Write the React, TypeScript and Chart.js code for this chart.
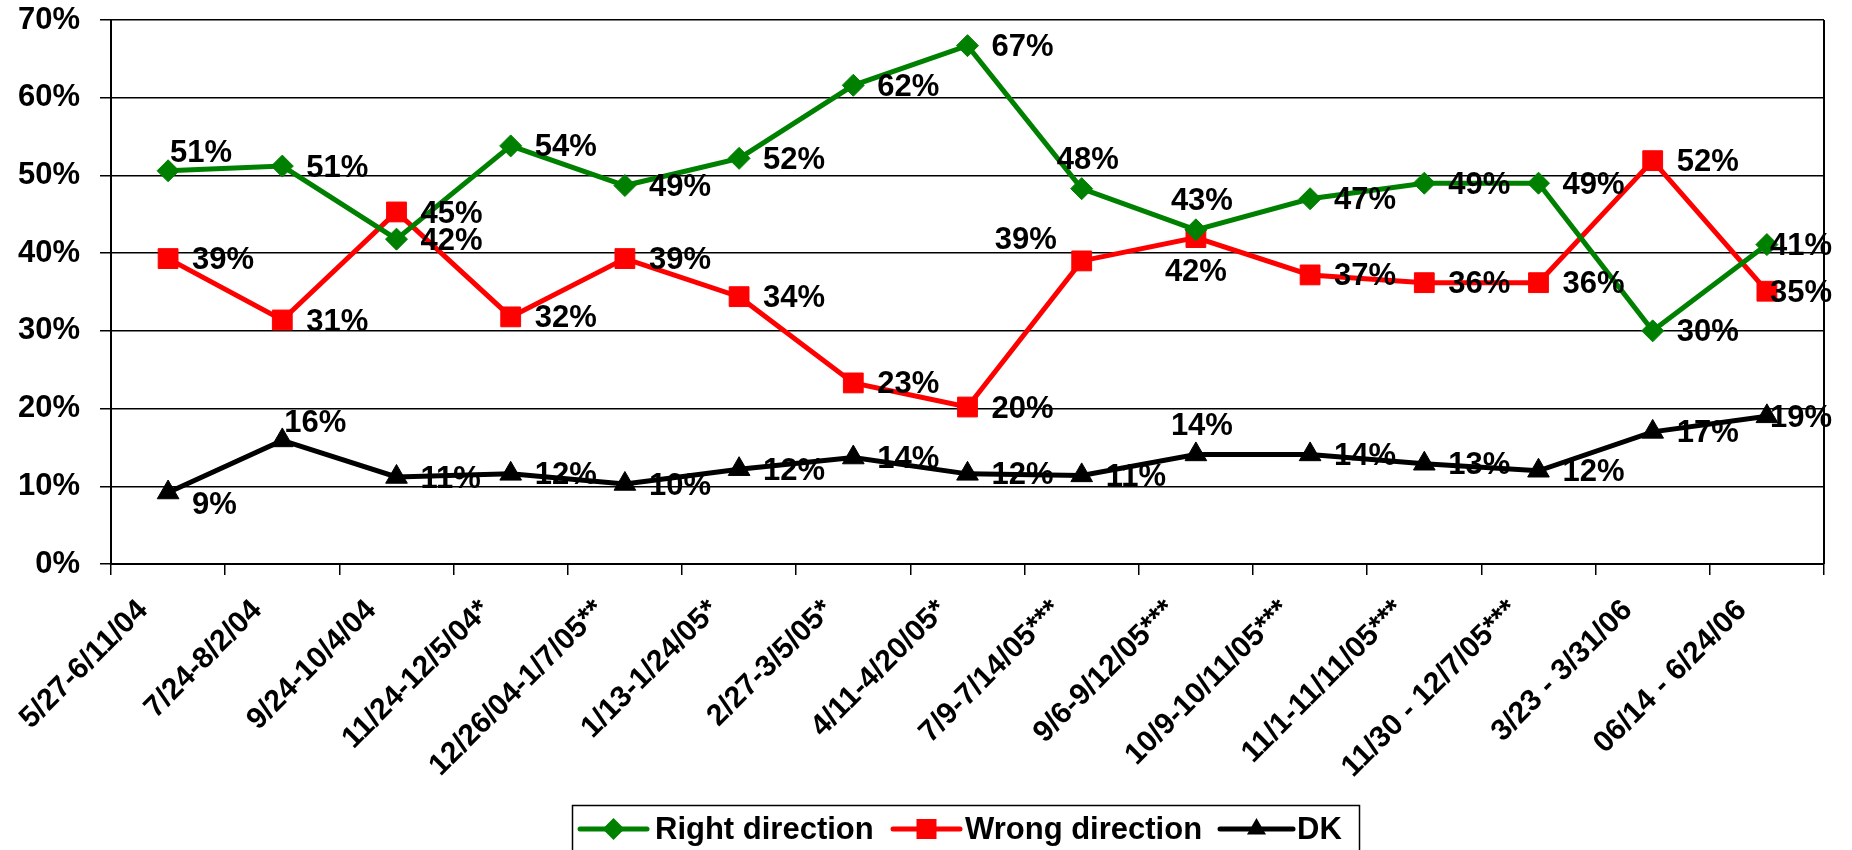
import React, { useEffect, useRef } from 'react';
import { Chart, registerables } from 'chart.js';

Chart.register(...registerables);

// ---------- data ----------
const categories = [
  '5/27-6/11/04',
  '7/24-8/2/04',
  '9/24-10/4/04',
  '11/24-12/5/04*',
  '12/26/04-1/7/05**',
  '1/13-1/24/05*',
  '2/27-3/5/05*',
  '4/11-4/20/05*',
  '7/9-7/14/05***',
  '9/6-9/12/05***',
  '10/9-10/11/05***',
  '11/1-11/11/05***',
  '11/30 - 12/7/05***',
  '3/23 - 3/31/06',
  '06/14 - 6/24/06',
];

const rightDirection = [50.6, 51.2, 41.8, 53.8, 48.7, 52.2, 61.6, 66.7, 48.3, 43.0, 47.0, 49.0, 49.0, 30.0, 41.1];
const wrongDirection = [39.3, 31.4, 45.3, 31.8, 39.3, 34.4, 23.3, 20.2, 39.0, 42.0, 37.2, 36.2, 36.2, 51.9, 35.1];
const dontKnow = [9.2, 15.9, 11.2, 11.6, 10.3, 12.2, 13.7, 11.6, 11.4, 14.1, 14.1, 12.9, 12.0, 17.0, 19.0];

const seriesNames = ['Right direction', 'Wrong direction', 'DK'];

const yMin = 0;
const yMax = 70;
const yStep = 10;

// label placement codes per point (R=right, E=right tight, AR=above-right, BR=below-right, A=above, B=below, L=left-above)
const rightPlacement = ['AR', 'R', 'R', 'R', 'R', 'R', 'R', 'R', 'A', 'A', 'R', 'R', 'R', 'R', 'E'];
const wrongPlacement = ['R', 'R', 'R', 'R', 'R', 'R', 'R', 'R', 'L', 'B', 'R', 'R', 'R', 'R', 'E'];
const dkPlacement = ['BR', 'AR', 'R', 'R', 'R', 'R', 'R', 'R', 'R', 'A', 'R', 'R', 'R', 'R', 'E'];

// ---------- styles ----------
const FONT = "'Liberation Sans', Arial, Helvetica, sans-serif";
const GREEN = '#008000';
const RED = '#FF0000';
const BLACK = '#000000';

const placementOffsets: Record<string, { dx: number; dy: number; align: CanvasTextAlign }> = {
  R: { dx: 24, dy: 2, align: 'left' },
  E: { dx: 3, dy: 2, align: 'left' },
  AR: { dx: 2, dy: -17, align: 'left' },
  BR: { dx: 24, dy: 13, align: 'left' },
  A: { dx: 6, dy: -28, align: 'center' },
  B: { dx: 0, dy: 35, align: 'center' },
  L: { dx: -25, dy: -20, align: 'right' },
};

function drawShape(ctx: CanvasRenderingContext2D, shape: string, x: number, y: number, color: string) {
  ctx.save();
  ctx.fillStyle = color;
  ctx.beginPath();
  if (shape === 'rectRot') {
    const r = 11;
    ctx.moveTo(x, y - r);
    ctx.lineTo(x + r, y);
    ctx.lineTo(x, y + r);
    ctx.lineTo(x - r, y);
  } else if (shape === 'rect') {
    const s = 10;
    ctx.rect(x - s, y - s, 2 * s, 2 * s);
  } else {
    const r = 11;
    ctx.moveTo(x, y - r);
    ctx.lineTo(x + r * 0.866, y + r * 0.5);
    ctx.lineTo(x - r * 0.866, y + r * 0.5);
  }
  ctx.closePath();
  ctx.fill();
  ctx.restore();
}

const dataLabelPlugin = {
  id: 'dataLabels',
  afterDatasetsDraw(chart: any) {
    const ctx: CanvasRenderingContext2D = chart.ctx;
    ctx.save();
    ctx.font = `bold 31px ${FONT}`;
    ctx.fillStyle = BLACK;
    ctx.textBaseline = 'middle';
    chart.data.datasets.forEach((ds: any, i: number) => {
      const meta = chart.getDatasetMeta(i);
      meta.data.forEach((pt: any, j: number) => {
        const v = ds.data[j];
        const p = placementOffsets[ds.placement[j]] || placementOffsets.R;
        ctx.textAlign = p.align;
        ctx.fillText(`${Math.round(v)}%`, pt.x + p.dx, pt.y + p.dy);
      });
    });
    ctx.restore();
  },
};

const frameAndLegendPlugin = {
  id: 'frameLegend',
  afterDraw(chart: any) {
    const ctx: CanvasRenderingContext2D = chart.ctx;
    const a = chart.chartArea;
    ctx.save();
    // right frame line
    ctx.strokeStyle = BLACK;
    ctx.lineWidth = 2;
    ctx.beginPath();
    ctx.moveTo(a.right, a.top);
    ctx.lineTo(a.right, a.bottom);
    ctx.stroke();

    // legend box
    ctx.lineWidth = 1.5;
    ctx.strokeRect(572.5, 805.5, 787, 60);
    const ly = 829;
    const items = [
      { x0: 580, x1: 647, tx: 655 },
      { x0: 893, x1: 960, tx: 965 },
      { x0: 1220, x1: 1293, tx: 1297 },
    ];
    ctx.font = `bold 31px ${FONT}`;
    ctx.textAlign = 'left';
    ctx.textBaseline = 'middle';
    chart.data.datasets.forEach((ds: any, i: number) => {
      const it = items[i];
      ctx.strokeStyle = ds.borderColor;
      ctx.lineWidth = 5;
      ctx.lineCap = 'round';
      ctx.beginPath();
      ctx.moveTo(it.x0, ly);
      ctx.lineTo(it.x1, ly);
      ctx.stroke();
      drawShape(ctx, ds.pointStyle, (it.x0 + it.x1) / 2, ly, ds.pointBackgroundColor);
      ctx.fillStyle = BLACK;
      ctx.fillText(ds.label, it.tx, ly + 1);
    });
    ctx.restore();
  },
};

export default function App() {
  const canvasRef = useRef<HTMLCanvasElement | null>(null);

  useEffect(() => {
    const canvas = canvasRef.current;
    if (!canvas) return;
    const chart = new Chart(canvas, {
      type: 'line',
      data: {
        labels: categories,
        datasets: [
          {
            label: seriesNames[0],
            data: rightDirection,
            borderColor: GREEN,
            backgroundColor: GREEN,
            borderWidth: 5,
            pointStyle: 'rectRot',
            pointRadius: 11,
            pointBackgroundColor: GREEN,
            pointBorderColor: GREEN,
            pointBorderWidth: 1,
            tension: 0,
            placement: rightPlacement,
          } as any,
          {
            label: seriesNames[1],
            data: wrongDirection,
            borderColor: RED,
            backgroundColor: RED,
            borderWidth: 5,
            pointStyle: 'rect',
            pointRadius: 14,
            pointBackgroundColor: RED,
            pointBorderColor: RED,
            pointBorderWidth: 1,
            tension: 0,
            placement: wrongPlacement,
          } as any,
          {
            label: seriesNames[2],
            data: dontKnow,
            borderColor: BLACK,
            backgroundColor: BLACK,
            borderWidth: 5,
            pointStyle: 'triangle',
            pointRadius: 12.5,
            pointBackgroundColor: BLACK,
            pointBorderColor: BLACK,
            pointBorderWidth: 1,
            tension: 0,
            placement: dkPlacement,
          } as any,
        ],
      },
      options: {
        responsive: false,
        animation: false,
        devicePixelRatio: 1,
        layout: { padding: { left: 0, top: 20, right: 28, bottom: 0 } },
        plugins: {
          legend: { display: false },
          tooltip: { enabled: false },
          title: { display: false },
        },
        scales: {
          x: {
            type: 'category',
            offset: true,
            afterFit: (s: any) => {
              s.height = 286;
            },
            grid: {
              offset: true,
              drawOnChartArea: false,
              drawTicks: true,
              tickLength: 11,
              color: BLACK,
              lineWidth: 1.5,
            },
            border: { display: true, color: BLACK, width: 2 },
            ticks: {
              autoSkip: false,
              minRotation: 45,
              maxRotation: 45,
              color: BLACK,
              padding: 18,
              labelOffset: -25,
              font: { family: FONT, size: 30, weight: 'bold' },
            },
          },
          y: {
            min: yMin,
            max: yMax,
            afterFit: (s: any) => {
              s.width = 111;
              s.paddingTop = 0;
              s.paddingBottom = 0;
            },
            grid: {
              color: BLACK,
              lineWidth: 1.5,
              tickLength: 11,
              drawTicks: true,
            },
            border: { display: true, color: BLACK, width: 2 },
            ticks: {
              stepSize: yStep,
              color: BLACK,
              padding: 20,
              font: { family: FONT, size: 31, weight: 'bold' },
              callback: (v: any) => `${v}%`,
            },
          },
        },
      } as any,
      plugins: [dataLabelPlugin, frameAndLegendPlugin],
    });
    return () => chart.destroy();
  }, []);

  return (
    <div style={{ position: 'absolute', left: 0, top: 0, width: 1852, height: 850, background: '#fff' }}>
      <canvas ref={canvasRef} width={1852} height={850} style={{ width: 1852, height: 850, display: 'block' }} />
    </div>
  );
}
